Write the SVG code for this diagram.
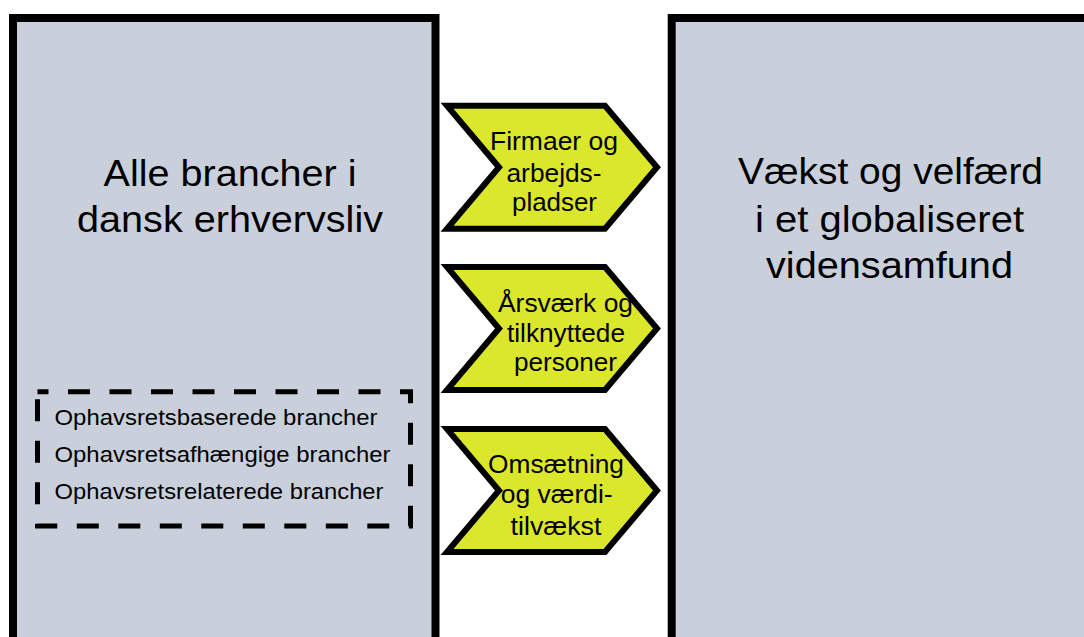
<svg xmlns="http://www.w3.org/2000/svg" width="1084" height="637" viewBox="0 0 1084 637">
  <style>
    .panel { fill: #c9d0db; stroke: #000; stroke-width: 8; }
    .chev { fill: #dbe72a; stroke: #000; stroke-width: 6; stroke-linejoin: miter; stroke-miterlimit: 10; }
    .dash { fill: none; stroke: #000; stroke-width: 5; stroke-dasharray: 22 19.5; stroke-dashoffset: 11; }
    text { font-family: "Liberation Sans", Arial, sans-serif; fill: #000; }
    .big { font-size: 37px; text-anchor: middle; }
    .mid { font-size: 26px; text-anchor: middle; }
    .small { font-size: 21.5px; }
  </style>
  <rect width="1084" height="637" fill="#fff"/>
  <g id="node-left">
    <rect class="panel" x="13" y="18" width="422.5" height="700"/>
    <text class="big" x="230" y="185.5" textLength="253" lengthAdjust="spacingAndGlyphs">Alle brancher i</text>
    <text class="big" x="230" y="231.7" textLength="306" lengthAdjust="spacingAndGlyphs">dansk erhvervsliv</text>
  </g>
  <g id="node-sub">
    <rect class="dash" x="37.5" y="391.7" width="373" height="134.3"/>
    <text class="small" x="54.5" y="425" textLength="323" lengthAdjust="spacingAndGlyphs">Ophavsretsbaserede brancher</text>
    <text class="small" x="54.5" y="462" textLength="336" lengthAdjust="spacingAndGlyphs">Ophavsretsafhængige brancher</text>
    <text class="small" x="54.5" y="499" textLength="329" lengthAdjust="spacingAndGlyphs">Ophavsretsrelaterede brancher</text>
  </g>
  <g id="node-right">
    <rect class="panel" x="671.7" y="18" width="500" height="700"/>
    <text class="big" x="890.5" y="184.3" textLength="305" lengthAdjust="spacingAndGlyphs">Vækst og velfærd</text>
    <text class="big" x="889.5" y="231.7" textLength="269" lengthAdjust="spacingAndGlyphs">i et globaliseret</text>
    <text class="big" x="889.5" y="278.3" textLength="247" lengthAdjust="spacingAndGlyphs">vidensamfund</text>
  </g>
  <g id="connectors">
    <g id="chevron-1">
      <path class="chev" d="M447,105.7 H605 L657,167.2 L605,228.7 H447 L499,167.2 Z"/>
      <text class="mid" x="554" y="149.5" textLength="128" lengthAdjust="spacingAndGlyphs">Firmaer og</text>
      <text class="mid" x="554" y="181.5" textLength="95" lengthAdjust="spacingAndGlyphs">arbejds-</text>
      <text class="mid" x="554.5" y="211" textLength="85" lengthAdjust="spacingAndGlyphs">pladser</text>
    </g>
    <g id="chevron-2">
      <path class="chev" d="M447,267 H605 L657,328.5 L605,390 H447 L499,328.5 Z"/>
      <text class="mid" x="565.5" y="311.7" textLength="135" lengthAdjust="spacingAndGlyphs">Årsværk og</text>
      <text class="mid" x="566" y="341.7" textLength="118" lengthAdjust="spacingAndGlyphs">tilknyttede</text>
      <text class="mid" x="565.5" y="370.5" textLength="103" lengthAdjust="spacingAndGlyphs">personer</text>
    </g>
    <g id="chevron-3">
      <path class="chev" d="M447,429 H605 L657,490.5 L605,552 H447 L499,490.5 Z"/>
      <text class="mid" x="556" y="472.7" textLength="136" lengthAdjust="spacingAndGlyphs">Omsætning</text>
      <text class="mid" x="556.7" y="503" textLength="112" lengthAdjust="spacingAndGlyphs">og værdi-</text>
      <text class="mid" x="556" y="535" textLength="91" lengthAdjust="spacingAndGlyphs">tilvækst</text>
    </g>
  </g>
</svg>
